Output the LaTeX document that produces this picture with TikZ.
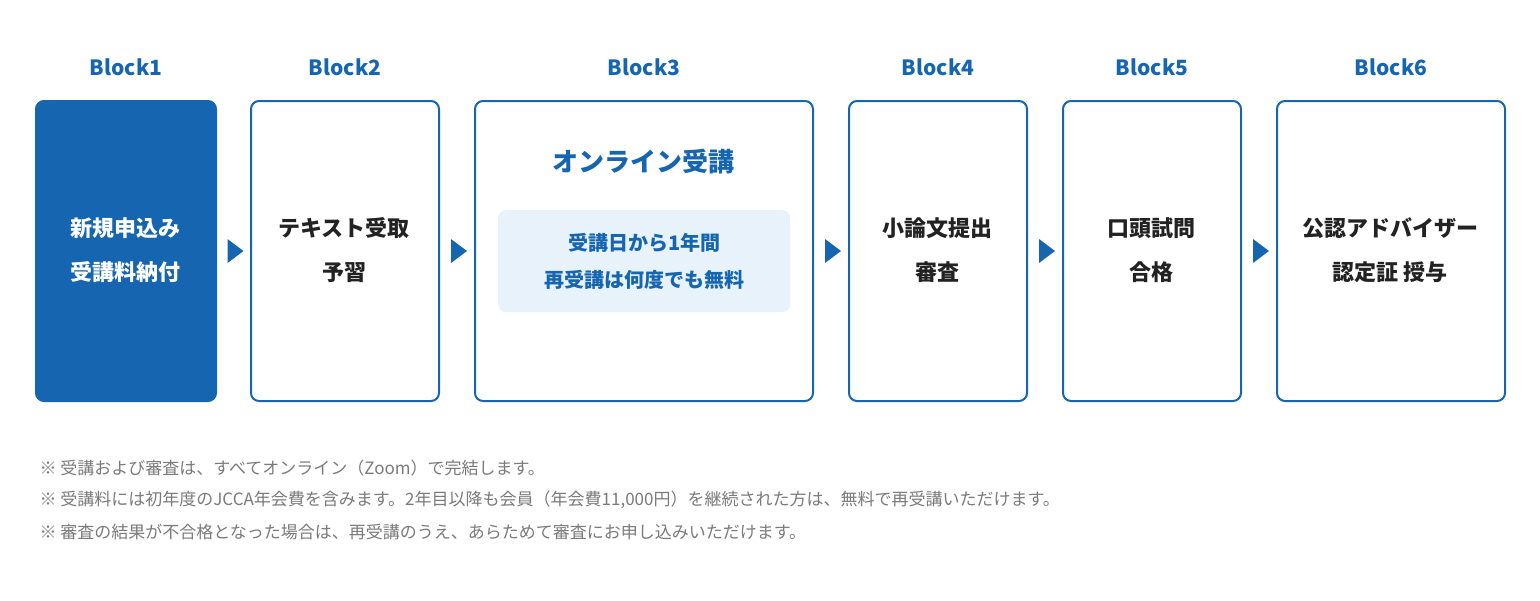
\documentclass[tikz,border=0pt]{standalone}
\usepackage{fontspec}
\setmainfont{Noto Sans CJK JP}
\definecolor{jb}{HTML}{1565B0}
\definecolor{lb}{HTML}{E8F2FB}
\definecolor{tx}{HTML}{222222}
\definecolor{gy}{HTML}{7A7A7A}
\begin{document}
\begin{tikzpicture}[x=1pt,y=-1pt,
 blk/.style={draw=jb,line width=2pt,rounded corners=8pt,anchor=north west,inner sep=0},
 lab/.style={text=jb,font=\bfseries\fontsize{21}{24}\selectfont},
 btxt/.style={text=tx,font=\bfseries\fontsize{22}{44}\selectfont,align=center},
 arr/.style={fill=jb,draw=none},
 note/.style={text=gray!90!black,font=\fontsize{17}{20}\selectfont,anchor=west}]
\useasboundingbox (0,0) rectangle (1540,600);
\node[blk,fill=jb,minimum width=180pt,minimum height=300pt] (b1) at (35,100) {};
\node[blk,minimum width=188pt,minimum height=300pt] (b2) at (250,100) {};
\node[blk,minimum width=338pt,minimum height=300pt] (b3) at (474,100) {};
\node[blk,minimum width=178pt,minimum height=300pt] (b4) at (848,100) {};
\node[blk,minimum width=178pt,minimum height=300pt] (b5) at (1062,100) {};
\node[blk,minimum width=228pt,minimum height=300pt] (b6) at (1276,100) {};
\foreach \i in {1,...,6}{\node[lab] (l\i) at ([yshift=33pt]b\i.north) {Block\i};}
\node[btxt,text=white] (t1) at (125,250) {新規申込み\\受講料納付};
\node[btxt] (t2) at (344,250) {テキスト受取\\予習};
\node[btxt] (t4) at (937,250) {小論文提出\\審査};
\node[btxt] (t5) at (1151,250) {口頭試問\\合格};
\node[btxt] (t6) at (1390,250) {公認アドバイザー\\認定証 授与};
\node[text=jb,font=\bfseries\fontsize{26}{30}\selectfont] (t3) at (643,162) {オンライン受講};
\node[fill=lb,rounded corners=8pt,minimum width=292pt,minimum height=102pt,anchor=north west] (in3) at (498,210) {};
\node[text=jb,font=\bfseries\fontsize{20}{37}\selectfont,align=center] (in3t) at (in3.center) {受講日から1年間\\再受講は何度でも無料};
\foreach \a/\b in {b1/b2,b2/b3,b3/b4,b4/b5,b5/b6}{
 \path (\a.east) -- (\b.west) coordinate[pos=0.5] (m);
 \fill[jb] ([xshift=-6pt,yshift=-12pt]m) -- ([xshift=10pt]m) -- ([xshift=-6pt,yshift=12pt]m) -- cycle;}
\node[note,text=gy] (n1) at (36,468) {※ 受講および審査は、すべてオンライン（Zoom）で完結します。};
\node[note,text=gy] (n2) at (36,500) {※ 受講料には初年度のJCCA年会費を含みます。2年目以降も会員（年会費11,000円）を継続された方は、無料で再受講いただけます。};
\node[note,text=gy] (n3) at (36,532) {※ 審査の結果が不合格となった場合は、再受講のうえ、あらためて審査にお申し込みいただけます。};
\end{tikzpicture}
\end{document}
